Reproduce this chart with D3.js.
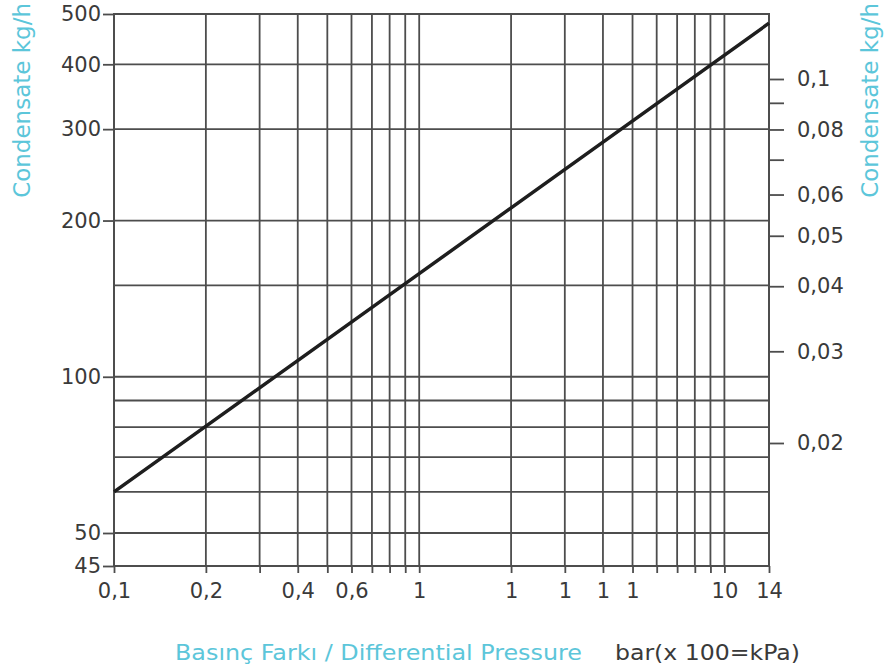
<!DOCTYPE html>
<html>
<head>
<meta charset="utf-8">
<script src="https://cdn.jsdelivr.net/npm/d3@7"></script>
<style>
  body { margin: 0; background: #fff; }
  .tick text { font-family: "DejaVu Sans", sans-serif; fill: #3a3a3a; }
  .title { font-family: "DejaVu Sans", sans-serif; fill: #5cc6da; }
</style>
</head>
<body>
<div id="chart"></div>
<script>
// grid values
var xGrid = [0.1, 0.2, 0.3, 0.4, 0.5, 0.6, 0.7, 0.8, 0.9, 1, 2, 3, 4, 5, 6, 7, 8, 9, 10, 14];
var yGrid = [45, 50, 60, 70, 80, 90, 100, 150, 200, 300, 400, 500];

// tick labels
var xTickVals = [0.1, 0.2, 0.4, 0.6, 1, 2, 3, 4, 5, 10, 14];
var xTickText = ["0,1", "0,2", "0,4", "0,6", "1", "1", "1", "1", "1", "10", "14"];
var yTickVals = [45, 50, 100, 200, 300, 400, 500];
var rightTickVals = [0.02, 0.03, 0.04, 0.05, 0.06, 0.07, 0.08, 0.09, 0.1];
var rightTickText = ["0,02", "0,03", "0,04", "0,05", "0,06", "", "0,08", "", "0,1"];

// the curve
var pressure = [0.1, 1, 14];
var condensate = [60, 158, 480];

var W = 884, H = 670;
var plotLeft = 114, plotRight = 769, plotTop = 14, plotBottom = 566;

var svg = d3.select("#chart").append("svg")
    .attr("width", W)
    .attr("height", H);

var x = d3.scaleLog().domain([0.1, 14]).range([plotLeft, plotRight]);
// the printed scale is a bit squeezed near the bottom
var y = d3.scaleLog().domain([45, 50, 500]).range([plotBottom, 533, plotTop]);
var yRight = d3.scaleLog().domain([0.02, 0.1]).range([443, 79]);

var gridColor = "#4d4d4d";

svg.append("g").selectAll("line")
    .data(xGrid)
    .enter().append("line")
    .attr("x1", function (d) { return x(d); })
    .attr("x2", function (d) { return x(d); })
    .attr("y1", plotTop)
    .attr("y2", plotBottom)
    .attr("stroke", gridColor)
    .attr("stroke-width", 1.8);

svg.append("g").selectAll("line")
    .data(yGrid)
    .enter().append("line")
    .attr("x1", plotLeft)
    .attr("x2", plotRight)
    .attr("y1", function (d) { return y(d); })
    .attr("y2", function (d) { return y(d); })
    .attr("stroke", gridColor)
    .attr("stroke-width", 1.8);

// axes
var xAxis = svg.append("g")
    .attr("transform", "translate(0," + plotBottom + ")")
    .call(d3.axisBottom(x).tickValues(xGrid).tickSize(7).tickPadding(9)
        .tickFormat(function (d) {
            var i = xTickVals.indexOf(d);
            return i < 0 ? "" : xTickText[i];
        }));

var yAxis = svg.append("g")
    .attr("transform", "translate(" + plotLeft + ",0)")
    .call(d3.axisLeft(y).tickValues(yTickVals).tickSize(11).tickPadding(2)
        .tickFormat(function (d) { return d; }));

var rAxis = svg.append("g")
    .attr("transform", "translate(" + plotRight + ",0)")
    .call(d3.axisRight(yRight).tickValues(rightTickVals).tickSize(15).tickPadding(13)
        .tickFormat(function (d, i) { return rightTickText[i]; }));

[xAxis, yAxis, rAxis].forEach(function (g) {
    g.select(".domain").remove();
    g.selectAll(".tick line").attr("stroke", gridColor).attr("stroke-width", 1.8);
    g.selectAll(".tick text").style("font-size", "21px");
});
xAxis.selectAll(".tick text").attr("dy", "0.75em");

// frame
svg.append("rect")
    .attr("x", plotLeft)
    .attr("y", plotTop)
    .attr("width", plotRight - plotLeft)
    .attr("height", plotBottom - plotTop)
    .attr("fill", "none")
    .attr("stroke", gridColor)
    .attr("stroke-width", 2);

// line
var line = d3.line()
    .x(function (d) { return x(d[0]); })
    .y(function (d) { return y(d[1]); });

svg.append("path")
    .datum(pressure.map(function (p, i) { return [p, condensate[i]]; }))
    .attr("d", line)
    .attr("fill", "none")
    .attr("stroke", "#1e1e1e")
    .attr("stroke-width", 3.5);

// titles
svg.append("text")
    .attr("class", "title")
    .attr("transform", "translate(30,3) rotate(-90)")
    .attr("text-anchor", "end")
    .style("font-size", "23px")
    .text("Condensate kg/h");

svg.append("text")
    .attr("class", "title")
    .attr("transform", "translate(878,3) rotate(-90)")
    .attr("text-anchor", "end")
    .style("font-size", "23px")
    .text("Condensate kg/h");

svg.append("text")
    .attr("class", "title")
    .attr("x", 175)
    .attr("y", 660)
    .attr("textLength", 407)
    .attr("lengthAdjust", "spacingAndGlyphs")
    .style("font-size", "21px")
    .text("Basınç Farkı / Differential Pressure");

svg.append("text")
    .attr("x", 615)
    .attr("y", 660)
    .attr("textLength", 185)
    .attr("lengthAdjust", "spacingAndGlyphs")
    .style("font-family", "DejaVu Sans, sans-serif")
    .style("font-size", "21px")
    .attr("fill", "#3a3a3a")
    .text("bar(x 100=kPa)");
</script>
</body>
</html>
